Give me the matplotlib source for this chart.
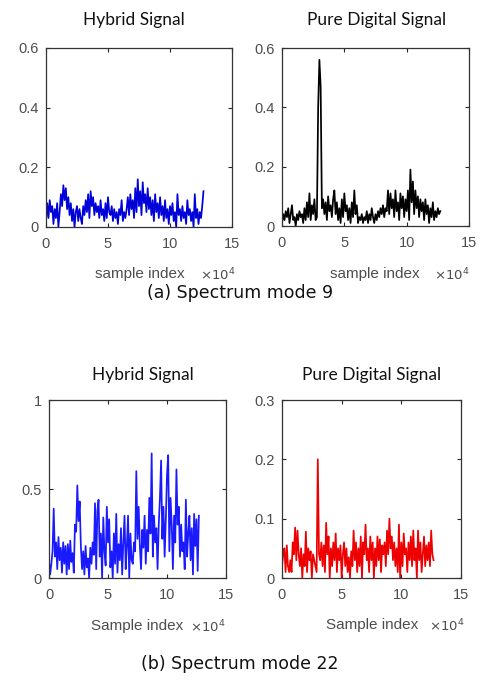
import numpy as np
import matplotlib.pyplot as plt

# spectrum magnitudes, one value every 1000 samples (0 .. 127000)
step = 1000

hybrid_mode9 = [
    0.02, 0.08, 0.03, 0.09, 0.05, 0.07, 0.01, 0.06, 0.03, 0.08, 0.00, 0.05, 0.11, 0.07, 0.14, 0.09,
    0.13, 0.06, 0.10, 0.04, 0.08, 0.02, 0.06, 0.00, 0.05, 0.07, 0.02, 0.06, 0.03, 0.01, 0.07, 0.04,
    0.09, 0.05, 0.11, 0.03, 0.12, 0.07, 0.10, 0.04, 0.08, 0.05, 0.07, 0.03, 0.09, 0.04, 0.06, 0.02,
    0.08, 0.03, 0.10, 0.05, 0.04, 0.07, 0.02, 0.06, 0.03, 0.05, 0.01, 0.06, 0.04, 0.09, 0.02, 0.05,
    0.03, 0.06, 0.10, 0.04, 0.11, 0.06, 0.09, 0.03, 0.13, 0.05, 0.16, 0.07, 0.12, 0.04, 0.15, 0.08,
    0.11, 0.05, 0.13, 0.06, 0.10, 0.04, 0.09, 0.02, 0.11, 0.05, 0.08, 0.03, 0.10, 0.04, 0.07, 0.02,
    0.09, 0.03, 0.06, 0.01, 0.07, 0.04, 0.08, 0.02, 0.05, 0.00, 0.11, 0.04, 0.06, 0.02, 0.07, 0.03,
    0.05, 0.01, 0.09, 0.04, 0.06, 0.02, 0.05, 0.00, 0.11, 0.03, 0.06, 0.01, 0.05, 0.03, 0.07, 0.12,
]

digital_mode9 = [
    0.01, 0.04, 0.02, 0.05, 0.03, 0.06, 0.01, 0.04, 0.07, 0.02, 0.03, 0.00, 0.04, 0.02, 0.05, 0.03,
    0.04, 0.01, 0.06, 0.02, 0.08, 0.03, 0.11, 0.02, 0.07, 0.04, 0.09, 0.02, 0.03, 0.40, 0.56, 0.47,
    0.06, 0.09, 0.04, 0.08, 0.02, 0.10, 0.05, 0.07, 0.03, 0.09, 0.12, 0.04, 0.08, 0.02, 0.06, 0.01,
    0.09, 0.03, 0.11, 0.05, 0.07, 0.02, 0.06, 0.01, 0.08, 0.03, 0.12, 0.04, 0.07, 0.01, 0.03, 0.02,
    0.04, 0.01, 0.03, 0.02, 0.05, 0.01, 0.04, 0.02, 0.06, 0.03, 0.01, 0.04, 0.02, 0.05, 0.03, 0.06,
    0.04, 0.07, 0.03, 0.06, 0.05, 0.12, 0.04, 0.11, 0.06, 0.09, 0.03, 0.12, 0.05, 0.08, 0.02, 0.11,
    0.06, 0.10, 0.03, 0.09, 0.05, 0.12, 0.02, 0.19, 0.08, 0.15, 0.04, 0.12, 0.06, 0.10, 0.03, 0.09,
    0.05, 0.08, 0.02, 0.09, 0.04, 0.07, 0.01, 0.06, 0.03, 0.08, 0.02, 0.05, 0.03, 0.06, 0.04, 0.05,
]

hybrid_mode22 = [
    0.10, 0.02, 0.08, 0.15, 0.39, 0.12, 0.20, 0.05, 0.23, 0.10, 0.17, 0.03, 0.20, 0.08, 0.18, 0.02,
    0.19, 0.05, 0.21, 0.09, 0.14, 0.03, 0.30, 0.26, 0.52, 0.32, 0.43, 0.18, 0.05, 0.15, 0.02, 0.18,
    0.06, 0.11, 0.00, 0.17, 0.08, 0.20, 0.13, 0.42, 0.05, 0.38, 0.44, 0.12, 0.25, 0.00, 0.34, 0.15,
    0.07, 0.40, 0.20, 0.33, 0.06, 0.15, 0.00, 0.25, 0.08, 0.36, 0.03, 0.19, 0.10, 0.28, 0.02, 0.20,
    0.35, 0.05, 0.18, 0.35, 0.00, 0.25, 0.10, 0.08, 0.20, 0.15, 0.60, 0.22, 0.40, 0.18, 0.05, 0.27,
    0.17, 0.35, 0.08, 0.27, 0.15, 0.45, 0.25, 0.70, 0.12, 0.35, 0.20, 0.28, 0.05, 0.30, 0.45, 0.66,
    0.22, 0.40, 0.12, 0.33, 0.58, 0.69, 0.15, 0.45, 0.30, 0.05, 0.35, 0.20, 0.61, 0.30, 0.40, 0.12,
    0.30, 0.15, 0.20, 0.05, 0.44, 0.12, 0.25, 0.35, 0.10, 0.28, 0.02, 0.36, 0.18, 0.33, 0.04, 0.35,
]

digital_mode22 = [
    0.02, 0.04, 0.05, 0.01, 0.055, 0.02, 0.01, 0.03, 0.01, 0.06, 0.04, 0.085, 0.03, 0.08, 0.04, 0.02,
    0.05, 0.00, 0.04, 0.02, 0.078, 0.01, 0.05, 0.03, 0.045, 0.00, 0.04, 0.03, 0.02, 0.01, 0.20, 0.04,
    0.03, 0.06, 0.02, 0.055, 0.01, 0.093, 0.04, 0.07, 0.00, 0.05, 0.02, 0.06, 0.03, 0.075, 0.01, 0.05,
    0.03, 0.055, 0.00, 0.04, 0.06, 0.02, 0.05, 0.01, 0.035, 0.00, 0.045, 0.02, 0.08, 0.03, 0.06, 0.01,
    0.05, 0.02, 0.07, 0.00, 0.06, 0.04, 0.09, 0.03, 0.05, 0.01, 0.07, 0.03, 0.06, 0.00, 0.05, 0.02,
    0.07, 0.03, 0.065, 0.01, 0.055, 0.04, 0.06, 0.02, 0.08, 0.04, 0.10, 0.05, 0.07, 0.03, 0.06, 0.02,
    0.05, 0.01, 0.09, 0.00, 0.06, 0.02, 0.075, 0.04, 0.05, 0.01, 0.06, 0.03, 0.07, 0.02, 0.08, 0.03,
    0.05, 0.00, 0.08, 0.03, 0.06, 0.01, 0.04, 0.07, 0.02, 0.055, 0.03, 0.06, 0.02, 0.08, 0.04, 0.03,
]

x_ticks = [0, 5, 10, 15]
titles = ["Hybrid Signal", "Pure Digital Signal"]
captions = ["(a) Spectrum mode 9", "(b) Spectrum mode 22"]

W, H = 480, 681
fig = plt.figure(figsize=(W / 100, H / 100), dpi=100)
fig.patch.set_facecolor("white")


def px(x, y):
    return x / W, 1 - y / H


def rect(l, t, r, b):
    return [l / W, 1 - b / H, (r - l) / W, (b - t) / H]


tick_gray = "#4d4d4d"


def panel(box, values, color, ylim, yticks, ylabels, xlabel, lab_x, lab_y, exp_x):
    ax = fig.add_axes(rect(*box))
    x = np.arange(len(values)) * step / 1e4
    ax.plot(x, values, color=color, lw=1.25)
    ax.set_xlim(0, 15)
    ax.set_ylim(*ylim)
    ax.set_xticks(x_ticks)
    ax.set_xticklabels([str(t) for t in x_ticks])
    ax.set_yticks(yticks)
    ax.set_yticklabels(ylabels)
    ax.tick_params(direction="in", length=3, width=0.8, top=True, right=True,
                   colors="#262626", labelcolor=tick_gray, labelsize=10.5)
    ax.tick_params(axis="x", pad=7)
    ax.tick_params(axis="y", pad=5)
    for lab in ax.get_xticklabels() + ax.get_yticklabels():
        lab.set_family("Liberation Sans")
    for s in ax.spines.values():
        s.set_color("#333333")
        s.set_linewidth(0.9)
    fig.text(*px(lab_x, lab_y), xlabel, ha="center", va="center",
             fontsize=11, color=tick_gray, family="Liberation Sans")
    fig.text(*px(exp_x, lab_y + 1), r"$\times10^4$", ha="center", va="center",
             fontsize=9.5, color=tick_gray)
    return ax


# spectrum mode 9
panel((46, 48, 232, 227), hybrid_mode9, "#0000d8", (0, 0.6),
      [0, 0.2, 0.4, 0.6], ["0", "0.2", "0.4", "0.6"], "sample index", 140, 274, 218)
panel((282, 48, 469, 226), digital_mode9, "black", (0, 0.6),
      [0, 0.2, 0.4, 0.6], ["0", "0.2", "0.4", "0.6"], "sample index", 375, 274, 452)

# spectrum mode 22
panel((49, 400, 226, 578), hybrid_mode22, "#1a1aff", (0, 1),
      [0, 0.5, 1], ["0", "0.5", "1"], "Sample index", 137, 626, 208)
panel((282, 400, 461, 578), digital_mode22, "#ee0000", (0, 0.3),
      [0, 0.1, 0.2, 0.3], ["0", "0.1", "0.2", "0.3"], "Sample index", 372, 625, 447)

for tx, ty, t in [(134, 20, titles[0]), (377, 20, titles[1]),
                  (143, 375, titles[0]), (372, 375, titles[1])]:
    fig.text(*px(tx, ty), t, ha="center", va="center", fontsize=12.5,
             family="Lato", color="#111111")

fig.text(*px(240, 293), captions[0], ha="center", va="center", fontsize=12.5,
         family="DejaVu Sans", color="#111111")
fig.text(*px(240, 664), captions[1], ha="center", va="center", fontsize=12.5,
         family="DejaVu Sans", color="#111111")

fig.savefig("out.png", dpi=100)
